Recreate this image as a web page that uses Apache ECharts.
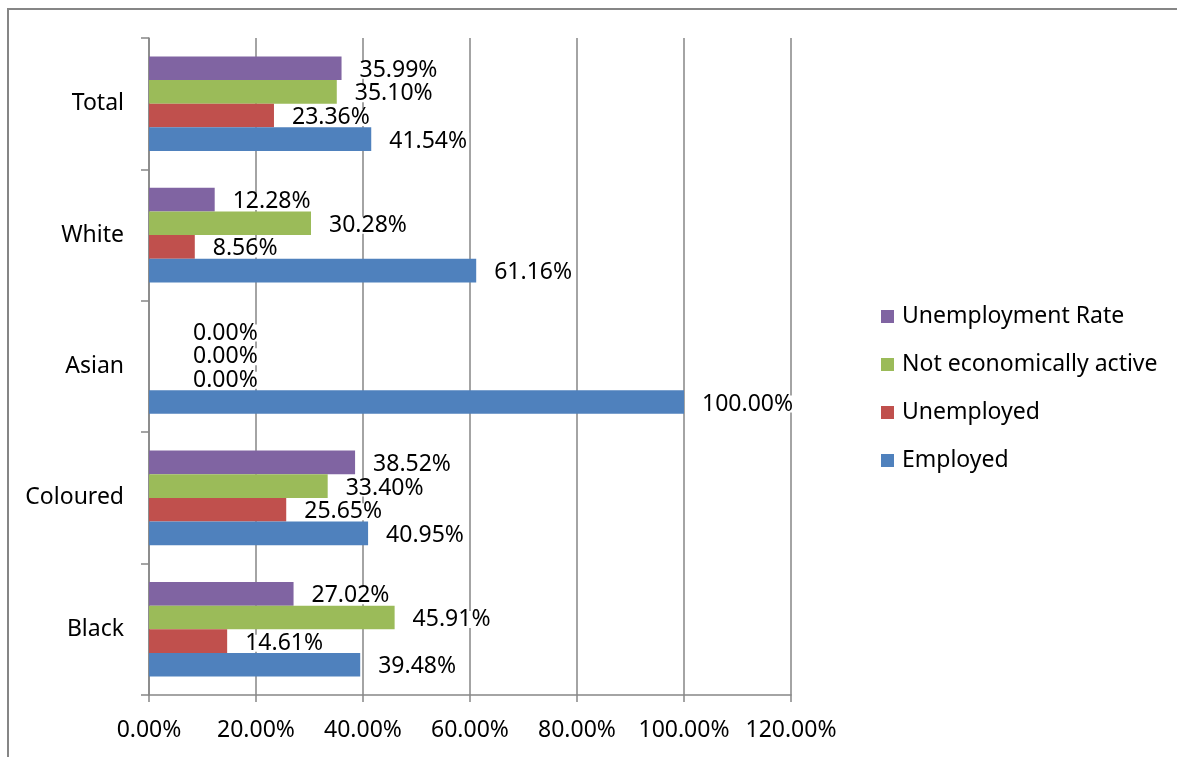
<!DOCTYPE html>
<html>
<head>
<meta charset="utf-8">
<script src="https://cdn.jsdelivr.net/npm/echarts@6/dist/echarts.min.js"></script>
<style>
  html, body { margin: 0; padding: 0; background: #fff; }
  #chart { width: 1177px; height: 757px; }
</style>
</head>
<body>
<div id="chart"></div>
<script>
// Population groups, drawn bottom to top
const categories = ['Black', 'Coloured', 'Asian', 'White', 'Total'];

// Shares per group (fractions)
const employed = [0.3948, 0.4095, 1.0, 0.6116, 0.4154];
const unemployed = [0.1461, 0.2565, 0.0, 0.0856, 0.2336];
const notActive = [0.4591, 0.3340, 0.0, 0.3028, 0.3510];
const unemploymentRate = [0.2702, 0.3852, 0.0, 0.1228, 0.3599];

const xTicks = { min: 0, max: 1.2, interval: 0.2 };

const FONT = 'Noto Sans';
const GRID_GRAY = '#868686';

function pct(v) { return (v * 100).toFixed(2) + '%'; }

function barSeries(name, values, color) {
  return {
    name: name,
    type: 'bar',
    barGap: '0%',
    barCategoryGap: '28%',
    itemStyle: { color: color },
    label: {
      show: true,
      position: 'right',
      distance: 16,
      offset: [0, 2],
      color: '#000',
      fontFamily: FONT,
      fontSize: 23,
      lineHeight: 17,
      backgroundColor: '#fff',
      padding: [0, 2],
      formatter: p => pct(p.value)
    },
    data: values.map(v => v === 0 ? { value: v, label: { distance: 42 } } : v)
  };
}

const chart = echarts.init(document.getElementById('chart'), null, { renderer: 'canvas' });
chart.setOption({
  animation: false,
  backgroundColor: '#fff',
  graphic: [{
    type: 'rect',
    shape: { x: 8, y: 9, width: 1300, height: 900 },
    style: { fill: 'none', stroke: GRID_GRAY, lineWidth: 2 },
    silent: true
  }],
  grid: { left: 149, right: 386, top: 38, bottom: 62, containLabel: false },
  legend: {
    orient: 'vertical',
    left: 876,
    top: 300,
    itemWidth: 13,
    itemHeight: 13,
    itemGap: 25,
    icon: 'rect',
    textStyle: { fontFamily: FONT, fontSize: 23, color: '#000', padding: [0, 0, 0, 3] },
    data: ['Unemployment Rate', 'Not economically active', 'Unemployed', 'Employed']
  },
  xAxis: {
    type: 'value',
    min: xTicks.min,
    max: xTicks.max,
    interval: xTicks.interval,
    axisLine: { show: true, lineStyle: { color: GRID_GRAY, width: 1.5 } },
    axisTick: { show: true, length: 7, lineStyle: { color: GRID_GRAY, width: 1.5 } },
    splitLine: { show: true, lineStyle: { color: GRID_GRAY, width: 1.5 } },
    axisLabel: {
      fontFamily: FONT, fontSize: 23, color: '#000', margin: 24,
      formatter: v => pct(v)
    }
  },
  yAxis: {
    type: 'category',
    data: categories,
    axisLine: { show: true, lineStyle: { color: GRID_GRAY, width: 1.5 } },
    axisTick: { show: true, length: 8, alignWithLabel: false, lineStyle: { color: GRID_GRAY, width: 1.5 } },
    axisLabel: { fontFamily: FONT, fontSize: 23, color: '#000', margin: 25, padding: [4, 0, 0, 0] }
  },
  // listed top-to-bottom within each group
  series: [
    barSeries('Unemployment Rate', unemploymentRate, '#8064A2'),
    barSeries('Not economically active', notActive, '#9BBB59'),
    barSeries('Unemployed', unemployed, '#C0504D'),
    barSeries('Employed', employed, '#4F81BD')
  ]
});
</script>
</body>
</html>
